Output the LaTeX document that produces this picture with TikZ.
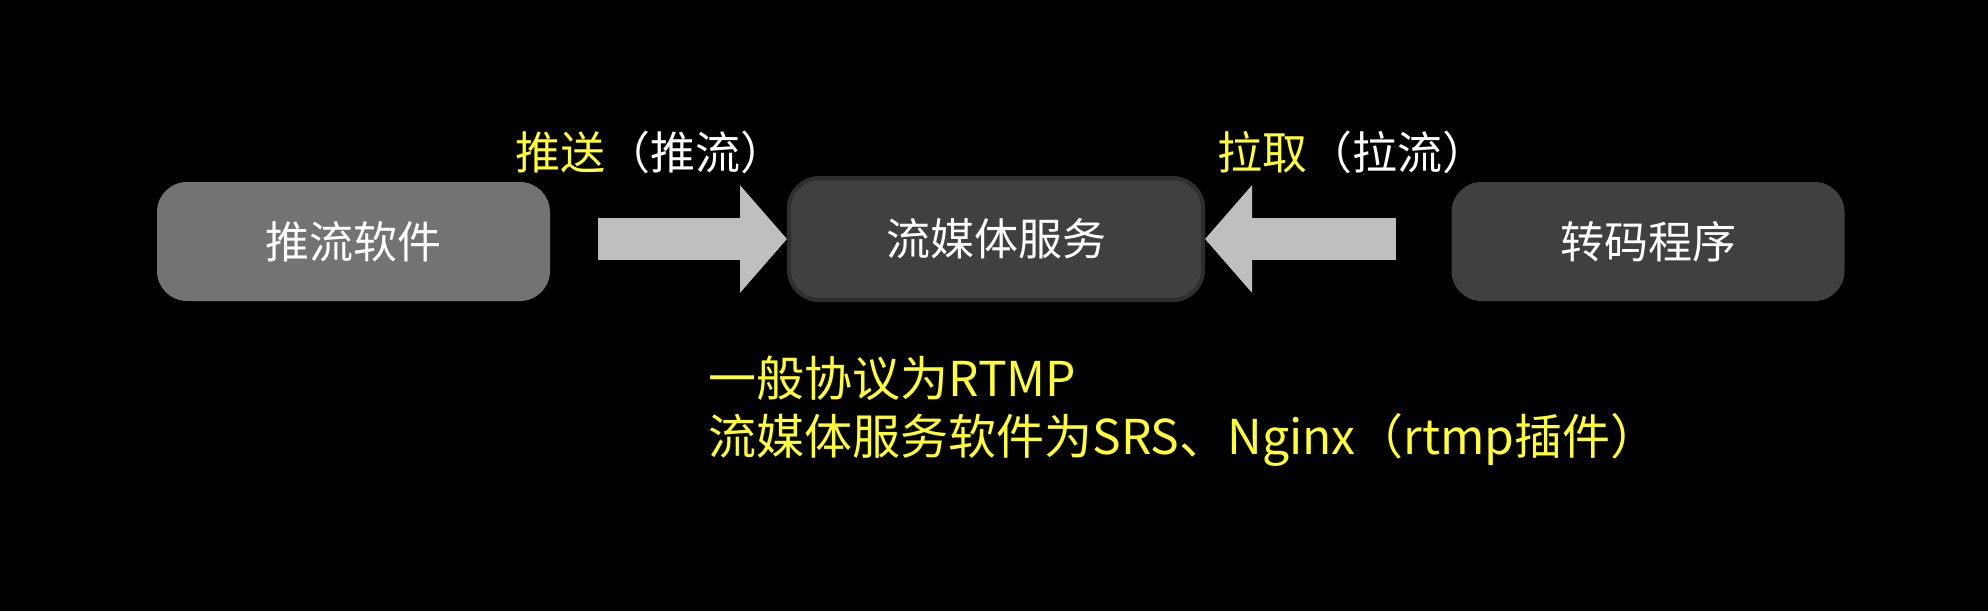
\documentclass[tikz,border=0pt]{standalone}
\usepackage{fontspec}
\newfontfamily\cjk{Noto Sans CJK SC}
\usetikzlibrary{arrows.meta, positioning, calc}
\definecolor{pushgray}{HTML}{737373}
\definecolor{boxgray}{HTML}{404040}
\definecolor{rimgray}{HTML}{2E2E2E}
\definecolor{arrowgray}{HTML}{BFBFBF}
\definecolor{hiyellow}{HTML}{FFFF33}

\begin{document}
\begin{tikzpicture}[
    x=0.5pt, y=-0.5pt,
    box/.style={rounded corners=15pt, minimum height=59.5pt, minimum width=196.5pt,
                align=center, text=white, font=\cjk\fontsize{22}{26}\selectfont},
    bigarrow/.style={arrowgray, line width=21pt, -{Triangle[length=23.5pt, width=52.5pt]}},
    tag/.style={text=white, inner sep=0pt, font=\cjk\fontsize{22.5}{27}\selectfont}
]
\useasboundingbox[fill=black] (0,0) rectangle (1988,611);

\node[box, fill=pushgray] (pusher) at (353.5,241.5) {推流软件};
\node[box, fill=boxgray, draw=rimgray, line width=2pt,
      minimum width=207pt, minimum height=61pt] (server) at (996,239) {流媒体服务};
\node[box, fill=boxgray] (transcoder) at (1648,241.5) {转码程序};

\coordinate (pushtail) at ($(server.west)+(-189,0)$);
\coordinate (pulltail) at ($(server.east)+(191,0)$);
\draw[bigarrow] (pushtail) -- (server.west);
\draw[bigarrow] (pulltail) -- (server.east);

\node[tag] (pushlabel) at (650,152) {\textcolor{hiyellow}{推送}（推流）};
\node[tag] (pulllabel) at (1352,152) {\textcolor{hiyellow}{拉取}（拉流）};

\node[tag, text=hiyellow, anchor=west, align=left, font=\cjk\fontsize{24}{29}\selectfont]
    (note) at (708,411) {一般协议为RTMP\\流媒体服务软件为SRS、Nginx（rtmp插件）};
\end{tikzpicture}
\end{document}
